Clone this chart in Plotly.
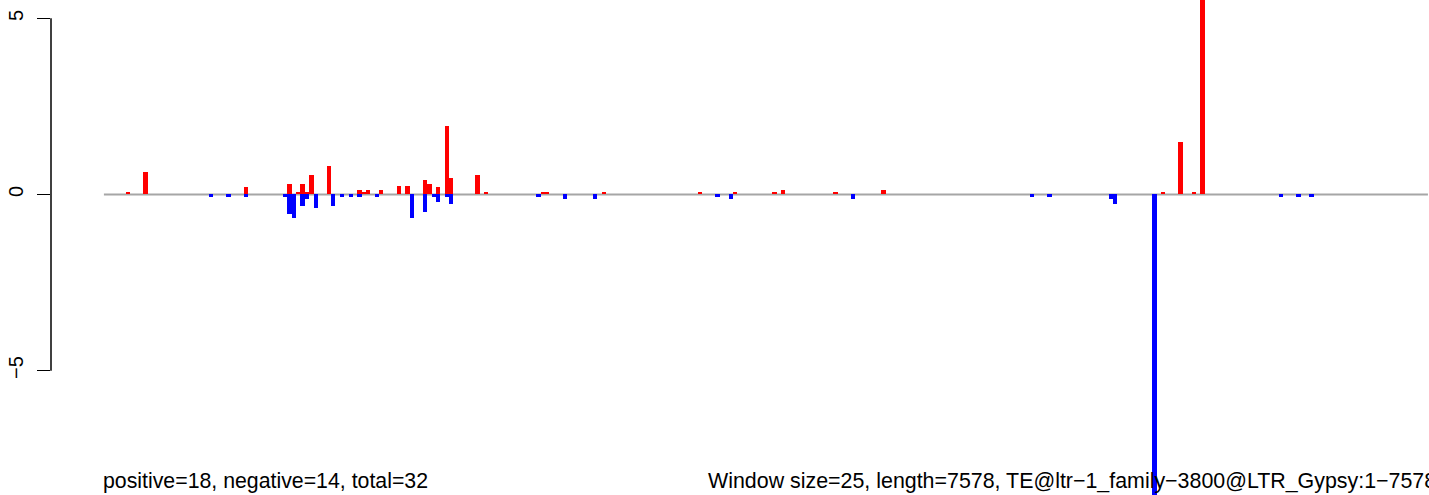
import plotly.graph_objects as go

# ---- data (window start positions in bp, scores) ----
window_size = 25
seq_length = 7578

pos_start = [125, 225, 800, 1050, 1100, 1125, 1150, 1175, 1275, 1450, 1475, 1500,
             1575, 1675, 1725, 1825, 1850, 1900, 1950, 1975, 2125, 2175, 2500, 2525,
             2850, 3400, 3600, 3825, 3875, 4175, 4450, 6050, 6150, 6225, 6275]
pos_value = [0.08, 0.64, 0.2, 0.31, 0.08, 0.31, 0.08, 0.54, 0.82, 0.14, 0.08, 0.14,
             0.14, 0.25, 0.25, 0.42, 0.31, 0.2, 1.93, 0.48, 0.54, 0.08, 0.08, 0.08,
             0.08, 0.08, 0.08, 0.08, 0.13, 0.08, 0.13, 0.08, 1.5, 0.08, 8.2]

neg_start = [600, 700, 800, 1025, 1050, 1075, 1125, 1150, 1200, 1300, 1350, 1400,
             1450, 1550, 1750, 1825, 1875, 1900, 1950, 1975, 2475, 2625, 2800, 3500,
             3575, 4275, 5300, 5400, 5750, 5775, 6000, 6725, 6825, 6900]
neg_value = [-0.08, -0.08, -0.08, -0.08, -0.55, -0.66, -0.33, -0.13, -0.38, -0.33, -0.08, -0.08,
             -0.08, -0.08, -0.66, -0.5, -0.08, -0.21, -0.08, -0.27, -0.06, -0.12, -0.12, -0.06,
             -0.12, -0.12, -0.07, -0.07, -0.12, -0.27, -8.7, -0.07, -0.07, -0.07]

y_ticks = [-5, 0, 5]
y_tick_text = ["\u22125", "0", "5"]

left_label = "positive=18, negative=14, total=32"
right_label = ("Window size=25, length=7578, "
               "TE@ltr\u22121_family\u22123800@LTR_Gypsy:1\u22127578")

FONT = "Liberation Sans, Arial, Helvetica, sans-serif"
W, H = 1429, 495
ML = 51
PW = W - ML

fig = go.Figure()
fig.add_trace(go.Bar(x=pos_start, y=pos_value, width=window_size, offset=0,
                     marker=dict(color="#FF0000", line=dict(width=0)),
                     showlegend=False, hoverinfo="skip"))
fig.add_trace(go.Bar(x=neg_start, y=neg_value, width=window_size, offset=0,
                     marker=dict(color="#0000FF", line=dict(width=0)),
                     showlegend=False, hoverinfo="skip"))

# baseline
fig.add_shape(type="line", xref="x", yref="y", x0=0, x1=seq_length, y0=0, y1=0,
              line=dict(color="#A6A6A6", width=2), layer="below")
# y axis line (R style: only between extreme ticks)
fig.add_shape(type="line", xref="paper", yref="y", x0=0, x1=0,
              y0=min(y_ticks), y1=max(y_ticks),
              line=dict(color="black", width=1.5), layer="above")

fig.add_annotation(text=left_label, xref="paper", yref="paper",
                   x=(100.5 - ML) / PW, y=1 - 481 / H,
                   xanchor="left", yanchor="middle", showarrow=False,
                   font=dict(family=FONT, size=21.3, color="black"))
fig.add_annotation(text=right_label, xref="paper", yref="paper",
                   x=(706 - ML) / PW, y=1 - 481 / H,
                   xanchor="left", yanchor="middle", showarrow=False,
                   font=dict(family=FONT, size=21.4, color="black"))

fig.update_layout(
    width=W, height=H, autosize=False,
    margin=dict(l=ML, r=0, t=0, b=0),
    paper_bgcolor="white", plot_bgcolor="white",
    barmode="overlay", bargap=0,
    font=dict(family=FONT, color="black"),
    xaxis=dict(range=[-302.8, 7584.1], showgrid=False, zeroline=False,
               showline=False, showticklabels=False, ticks=""),
    yaxis=dict(range=[-8.53, 5.52], showgrid=False, zeroline=False, showline=False,
               tickmode="array", tickvals=y_ticks, ticktext=y_tick_text,
               ticks="outside", ticklen=13, tickwidth=1.5, tickcolor="black",
               tickangle=-90, ticklabelstandoff=6,
               tickfont=dict(family=FONT, size=20, color="black")),
)

fig.write_html("out.html",
               config={"displayModeBar": False, "staticPlot": True},
               post_script="document.body.style.margin='0';document.body.style.overflow='hidden';")
